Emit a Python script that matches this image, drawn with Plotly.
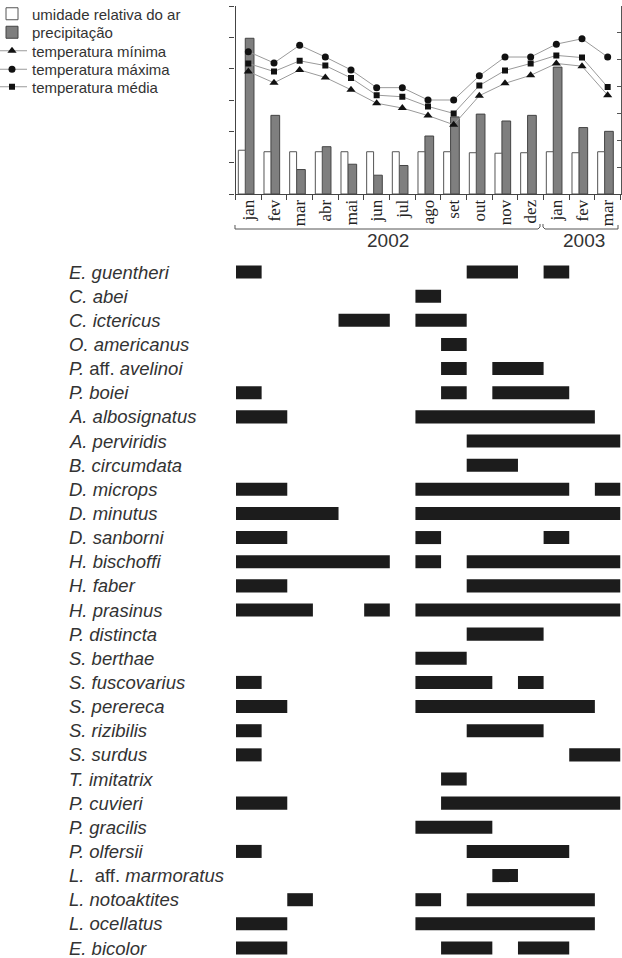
import plotly.graph_objects as go

# ---- climate data (jan 2002 - mar 2003) ----
months = ["jan", "fev", "mar", "abr", "mai", "jun", "jul", "ago",
          "set", "out", "nov", "dez", "jan", "fev", "mar"]
humidity = [88, 85, 85, 85, 85, 85, 85, 85, 85, 83, 82, 83, 85, 83, 85]          # %
precip = [497, 251, 78, 151, 95, 60, 91, 185, 246, 255, 233, 251, 405, 212, 200]  # mm
t_max = [26.5, 24.4, 27.7, 25.5, 23.1, 19.8, 19.8, 17.5, 17.5, 22.0, 25.5, 25.5, 27.9, 28.9, 25.5]
t_mean = [24.3, 22.8, 24.8, 23.9, 21.6, 18.4, 18.1, 16.3, 15.0, 20.2, 23.0, 24.3, 25.8, 25.4, 19.9]
t_min = [22.8, 20.7, 23.1, 21.7, 19.4, 16.9, 16.0, 14.6, 12.9, 18.3, 20.6, 22.1, 24.3, 23.8, 18.4]
years = ["2002", "2003"]

# ---- calling activity per species: (first month, last month + 1), 0 = jan 2002 ----
species = [
    "<i>E. guentheri</i>", "<i>C. abei</i>", "<i>C. ictericus</i>", "<i>O. americanus</i>",
    "<i>P.</i> aff. <i>avelinoi</i>", "<i>P. boiei</i>", "<i>A. albosignatus</i>",
    "<i>A. perviridis</i>", "<i>B. circumdata</i>", "<i>D. microps</i>", "<i>D. minutus</i>",
    "<i>D. sanborni</i>", "<i>H. bischoffi</i>", "<i>H. faber</i>", "<i>H. prasinus</i>",
    "<i>P. distincta</i>", "<i>S. berthae</i>", "<i>S. fuscovarius</i>", "<i>S. perereca</i>",
    "<i>S. rizibilis</i>", "<i>S. surdus</i>", "<i>T. imitatrix</i>", "<i>P. cuvieri</i>",
    "<i>P. gracilis</i>", "<i>P. olfersii</i>", "<i>L.</i>&nbsp; aff. <i>marmoratus</i>",
    "<i>L. notoaktites</i>", "<i>L. ocellatus</i>", "<i>E. bicolor</i>",
]
periods = [
    [(0, 1), (9, 11), (12, 13)],
    [(7, 8)],
    [(4, 6), (7, 9)],
    [(8, 9)],
    [(8, 9), (10, 12)],
    [(0, 1), (8, 9), (10, 13)],
    [(0, 2), (7, 14)],
    [(9, 15)],
    [(9, 11)],
    [(0, 2), (7, 13), (14, 15)],
    [(0, 4), (7, 15)],
    [(0, 2), (7, 8), (12, 13)],
    [(0, 6), (7, 8), (9, 15)],
    [(0, 2), (9, 15)],
    [(0, 3), (5, 6), (7, 15)],
    [(9, 12)],
    [(7, 9)],
    [(0, 1), (7, 10), (11, 12)],
    [(0, 2), (7, 14)],
    [(0, 1), (9, 12)],
    [(0, 1), (13, 15)],
    [(8, 9)],
    [(0, 2), (8, 15)],
    [(7, 10)],
    [(0, 1), (9, 13)],
    [(10, 11)],
    [(2, 3), (7, 8), (9, 14)],
    [(0, 2), (7, 14)],
    [(0, 2), (8, 10), (11, 13)],
]

W, H = 622, 958
INK = "#333333"
SANS = "Liberation Sans, Arial, sans-serif"
SERIF = "Liberation Serif, Times New Roman, serif"


def px(x):
    return x / W


def py(y):
    return 1 - y / H


xc = [i + 0.5 for i in range(len(months))]

fig = go.Figure()

# monthly bars
fig.add_trace(go.Bar(
    x=xc, y=humidity, name="umidade relativa do ar", xaxis="x", yaxis="y4",
    offset=-0.39, width=0.27, marker=dict(color="white", line=dict(color="#555", width=1)),
    legend="legend",
))
fig.add_trace(go.Bar(
    x=xc, y=precip, name="precipitação", xaxis="x", yaxis="y",
    offset=-0.12, width=0.34, marker=dict(color="#7f7f7f", line=dict(color="#444", width=1)),
    legend="legend2",
))

# temperature lines
line_style = dict(color="#9a9a9a", width=1)
fig.add_trace(go.Scatter(
    x=xc, y=t_min, name="temperatura mínima", mode="lines+markers", xaxis="x", yaxis="y3",
    line=line_style, marker=dict(symbol="triangle-up", size=8, color="#111"), legend="legend3",
))
fig.add_trace(go.Scatter(
    x=xc, y=t_max, name="temperatura máxima", mode="lines+markers", xaxis="x", yaxis="y3",
    line=line_style, marker=dict(symbol="circle", size=7, color="#111"), legend="legend4",
))
fig.add_trace(go.Scatter(
    x=xc, y=t_mean, name="temperatura média", mode="lines+markers", xaxis="x", yaxis="y3",
    line=line_style, marker=dict(symbol="square", size=6, color="#111"), legend="legend5",
))

# activity bars
g_y, g_base, g_len = [], [], []
for row, spans in enumerate(periods):
    for a, b in spans:
        g_y.append(row)
        g_base.append(a)
        g_len.append(b - a)
fig.add_trace(go.Bar(
    y=g_y, x=g_len, base=g_base, orientation="h", xaxis="x2", yaxis="y2",
    width=0.54, marker=dict(color="#1c1c1c", line=dict(width=0)), showlegend=False,
))

# species names
annotations = []
for row, name in enumerate(species):
    annotations.append(dict(
        text=name, x=px(67), xref="paper", y=row, yref="y2",
        xanchor="left", yanchor="middle", showarrow=False,
        font=dict(family=SANS, size=18.5, color=INK),
    ))

# year labels under the month axis
for label, xmid in zip(years, [388, 584]):
    annotations.append(dict(
        text=label, x=px(xmid), y=py(240), xref="paper", yref="paper",
        xanchor="center", yanchor="middle", showarrow=False,
        font=dict(family=SANS, size=19, color=INK),
    ))

# year brackets
def path(points):
    return "M " + " L ".join(f"{px(x):.5f},{py(y):.5f}" for x, y in points)


shapes = [
    dict(type="path", xref="paper", yref="paper",
         path=path([(235, 225), (235, 229), (538, 229), (540, 227), (540, 224)]),
         line=dict(color="#555", width=1)),
    dict(type="path", xref="paper", yref="paper",
         path=path([(543, 224), (543, 227), (545, 229), (618, 229), (618, 225)]),
         line=dict(color="#555", width=1)),
]

x_dom = [px(235.5), px(620.5)]
top_dom = [py(194), py(6)]

legend_base = dict(
    x=px(-8), xanchor="left", yanchor="middle", bgcolor="rgba(0,0,0,0)",
    font=dict(family=SANS, size=15, color=INK), itemwidth=30,
)
legend_rows = [14, 32.5, 51, 69.5, 87]

fig.update_layout(
    width=W, height=H,
    margin=dict(l=0, r=0, t=0, b=0, autoexpand=False),
    paper_bgcolor="white", plot_bgcolor="rgba(0,0,0,0)",
    barmode="overlay",
    xaxis=dict(
        domain=x_dom, range=[0, 15], anchor="y",
        tickmode="array", tickvals=xc, ticktext=months, tickangle=-90,
        tickfont=dict(family=SERIF, size=17, color="#222"), ticks="", ticklen=0,
        ticklabelstandoff=-2,
        minor=dict(tickmode="linear", tick0=0, dtick=1, ticks="outside", ticklen=5,
                   tickcolor="#444", showgrid=False),
        showline=True, linecolor="#444", linewidth=1, showgrid=False, zeroline=False,
        automargin=False,
    ),
    yaxis=dict(
        domain=top_dom, range=[0, 600], dtick=100, anchor="x",
        ticks="outside", ticklen=5, tickcolor="#444", showticklabels=False,
        showline=True, linecolor="#444", linewidth=1.2, showgrid=False, zeroline=False,
        automargin=False,
    ),
    yaxis3=dict(
        overlaying="y", side="right", range=[0, 35], dtick=5, anchor="x",
        ticks="inside", ticklen=4, tickcolor="#555", showticklabels=False,
        showline=True, linecolor="#555", linewidth=1, showgrid=False, zeroline=False,
        automargin=False,
    ),
    yaxis4=dict(overlaying="y", range=[0, 378], visible=False, anchor="x"),
    xaxis2=dict(domain=[px(236), px(620.5)], range=[0, 15], anchor="y2", visible=False),
    yaxis2=dict(domain=[0, py(255)], range=[28 + 10 / 24.14, -17 / 24.14],
                anchor="x2", visible=False),
    annotations=annotations,
    shapes=shapes,
    legend=dict(legend_base, y=py(legend_rows[0])),
    legend2=dict(legend_base, y=py(legend_rows[1])),
    legend3=dict(legend_base, y=py(legend_rows[2])),
    legend4=dict(legend_base, y=py(legend_rows[3])),
    legend5=dict(legend_base, y=py(legend_rows[4])),
)

fig.write_html("out.html")
